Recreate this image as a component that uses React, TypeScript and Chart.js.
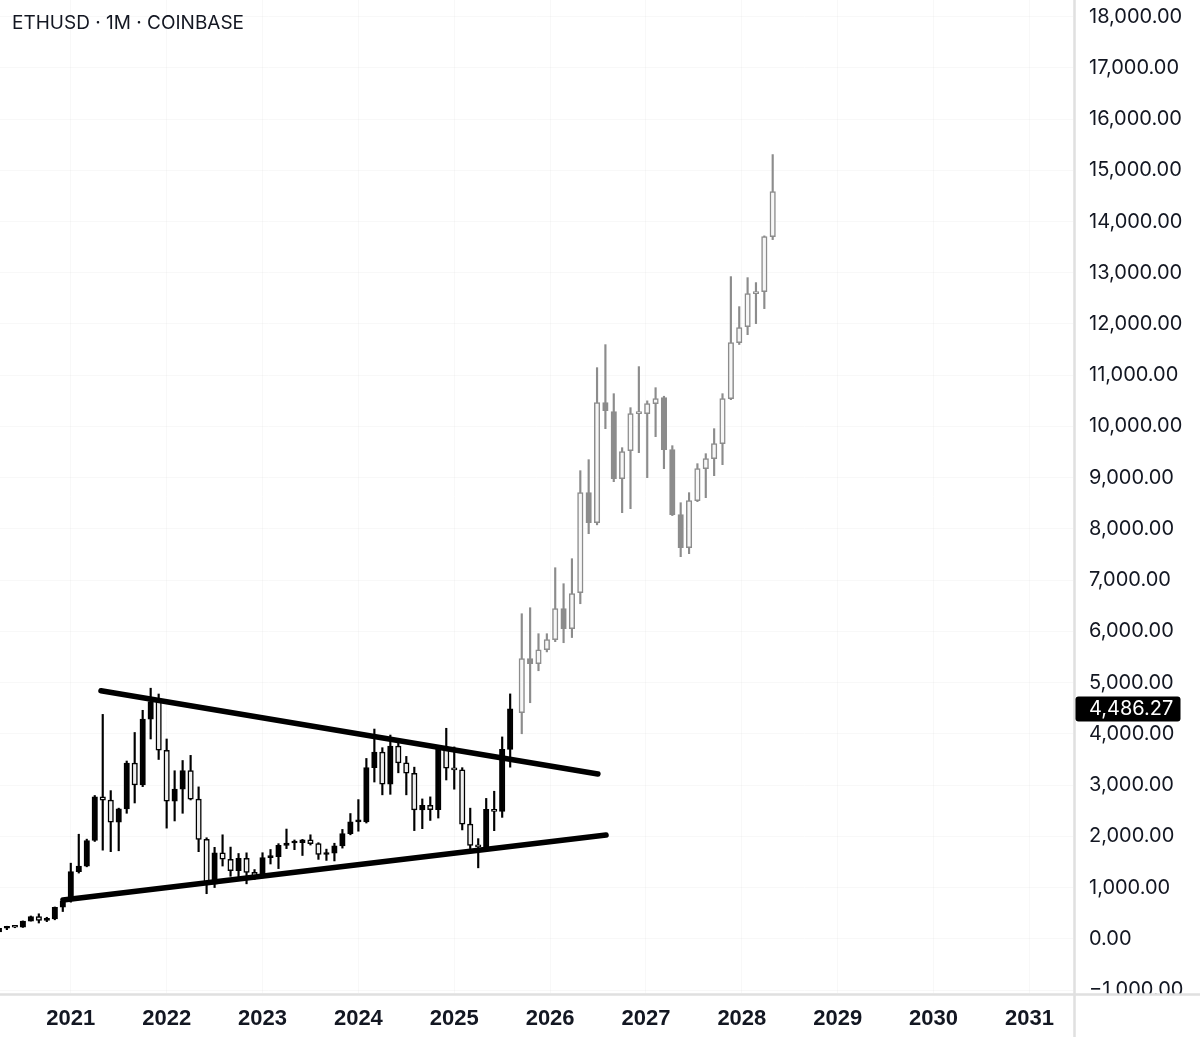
import { useEffect, useRef } from 'react';
import { Chart, registerables } from 'chart.js';

Chart.register(...registerables);

// ---- Axis labels ----
const YEAR_LABELS = ['2021', '2022', '2023', '2024', '2025', '2026', '2027', '2028', '2029', '2030', '2031'];
const MONTHS_PER_YEAR = 12;
const Y_TICK_STEP = 1000;
const X_MIN = -8.86; // months relative to Jan 2021
const X_MAX = 125.45;
const Y_MIN = -1058;
const Y_MAX = 18324;

// ---- Monthly ETHUSD candles, Apr 2020 .. Aug 2025 (month index, Jan 2021 = 0) ----
const HIST_START = -9;
const HIST_OPEN = [
  133, 206, 231, 226, 345, 434, 360, 386, 616,
  737, 1312, 1417, 1918, 2773, 2707, 2275, 2536, 3432, 3001, 4288, 4631,
  3680, 2688, 2920, 3282, 2727, 1942, 1067, 1678, 1553, 1328, 1572, 1295,
  1196, 1585, 1605, 1822, 1870, 1874, 1934, 1857, 1645, 1671, 1815, 2052,
  2282, 2283, 3340, 3645, 3016, 3763, 3433, 3232, 2514, 2603, 2518, 3706,
  3332, 3298, 2238, 1822, 1794, 2528, 2486, 3698,
];
const HIST_HIGH = [
  227, 245, 254, 349, 445, 488, 420, 621, 755,
  1476, 2041, 1945, 2797, 4380, 2892, 2550, 3470, 4027, 4460, 4891, 4778,
  3900, 3280, 3480, 3580, 2965, 1972, 1785, 2030, 1790, 1665, 1678, 1352,
  1680, 1743, 1857, 2142, 1929, 1940, 2030, 1875, 1750, 1865, 2135, 2445,
  2717, 3520, 4094, 3730, 3977, 3887, 3560, 3350, 2730, 2770, 3740, 4109,
  3745, 3340, 2550, 1955, 2740, 2880, 3940, 4780,
];
const HIST_LOW = [
  130, 178, 216, 222, 345, 308, 335, 371, 532,
  715, 1283, 1405, 1900, 1730, 1700, 1718, 2450, 2651, 2970, 3900, 3500,
  2160, 2300, 2450, 2710, 1700, 880, 1000, 1420, 1220, 1190, 1073, 1157,
  1190, 1460, 1370, 1760, 1740, 1626, 1830, 1550, 1530, 1520, 1770, 2030,
  2100, 2260, 3060, 2810, 2820, 3240, 2810, 2112, 2150, 2310, 2357, 3100,
  2920, 2125, 1760, 1385, 1750, 2110, 2370, 3350,
];
const HIST_CLOSE = [
  206, 231, 226, 345, 434, 360, 386, 616, 737,
  1312, 1417, 1918, 2773, 2707, 2275, 2536, 3432, 3001, 4288, 4631, 3680,
  2688, 2920, 3282, 2727, 1942, 1067, 1678, 1553, 1328, 1572, 1295, 1196,
  1585, 1605, 1822, 1870, 1874, 1934, 1857, 1645, 1671, 1815, 2052, 2282,
  2283, 3340, 3645, 3016, 3763, 3433, 3232, 2514, 2603, 2518, 3706, 3332,
  3298, 2238, 1822, 1794, 2528, 2486, 3698, 4486.27,
];

// ---- Projected path (bars pattern), spaced slightly wider than one month ----
const PROJ_START = 56.45;
const PROJ_STEP = 1.047;
const PROJ_OPEN = [
  4412, 5467, 5369, 5642, 5838, 6443, 6052, 6755, 8708, 8122, 10465, 10289, 8981, 9527, 10250, 10250,
  10445, 10562, 9547, 8278, 7634, 8551, 9176, 9371, 9664, 10543, 11636, 11949, 12593, 12632, 13706,
];
const PROJ_HIGH = [
  6345, 6462, 5955, 5955, 7243, 6931, 7419, 9137, 9352, 11148, 11597, 10640, 9586, 10367, 11168, 10500,
  10757, 10590, 9625, 8512, 8708, 9274, 9469, 9957, 10640, 12925, 12339, 12905, 12808, 13720, 15307,
];
const PROJ_LOW = [
  4002, 4608, 5232, 5600, 5800, 5779, 5880, 6540, 7907, 8080, 9957, 8922, 8317, 8395, 9489, 9000,
  9801, 9176, 8260, 7458, 7517, 8532, 8610, 9039, 9254, 10523, 11600, 11792, 12007, 12300, 13647,
];
const PROJ_CLOSE = [
  5467, 5369, 5642, 5838, 6443, 6052, 6736, 8708, 8122, 10465, 10309, 8981, 9508, 10250, 10270, 10445,
  10543, 9547, 8278, 7634, 8551, 9176, 9371, 9664, 10543, 11636, 11929, 12593, 12610, 13706, 14584,
];

// ---- Triangle trendlines (month index, price) ----
const UPPER_TREND = [
  { x: 3.78, y: 4843 },
  { x: 65.98, y: 3217 },
];
const LOWER_TREND = [
  { x: -0.98, y: 759 },
  { x: 67.0, y: 2026 },
];

const TITLE = 'ETHUSD · 1M · COINBASE';

// ---- Styles ----
const INK = '#000000';
const GHOST = '#8c8c8c';
const HOLLOW_INK = '#efefef';
const HOLLOW_GHOST = '#f7f7f7';
const TEXT = '#131722';
const AXIS_LINE = '#e0e0e0';
const GRID = 'rgba(0,0,0,0.028)';
const UI_FONT = 'Inter, "Liberation Sans", Arial, sans-serif';

type Candle = { x: number; o: number; h: number; l: number; c: number; proj: boolean };

const candles: Candle[] = [
  ...HIST_OPEN.map((o, i) => ({
    x: HIST_START + i,
    o,
    h: HIST_HIGH[i],
    l: HIST_LOW[i],
    c: HIST_CLOSE[i],
    proj: false,
  })),
  ...PROJ_OPEN.map((o, i) => ({
    x: PROJ_START + i * PROJ_STEP,
    o,
    h: PROJ_HIGH[i],
    l: PROJ_LOW[i],
    c: PROJ_CLOSE[i],
    proj: true,
  })),
];

const LAST_PRICE = HIST_CLOSE[HIST_CLOSE.length - 1];

const fmtPrice = (v: number) =>
  (v < 0 ? '\u2212' : '') +
  Math.abs(v).toLocaleString('en-US', { minimumFractionDigits: 2, maximumFractionDigits: 2 });

// Frame lines that run past the plot area, and the last-price tag on the price axis
const framePlugin = {
  id: 'frame',
  afterDraw(chart: any) {
    const { ctx, chartArea, width, height } = chart;
    const yScale = chart.scales.y;
    ctx.save();
    // hide the part of the lowest price label that falls under the time axis
    ctx.fillStyle = '#ffffff';
    ctx.fillRect(chartArea.right + 2, chartArea.bottom + 1, width - chartArea.right, height - chartArea.bottom);
    ctx.strokeStyle = AXIS_LINE;
    ctx.lineWidth = 2.5;
    ctx.beginPath();
    ctx.moveTo(0, chartArea.bottom + 1.5);
    ctx.lineTo(width, chartArea.bottom + 1.5);
    ctx.moveTo(chartArea.right + 1.5, 0);
    ctx.lineTo(chartArea.right + 1.5, height);
    ctx.stroke();

    // last price tag
    const py = yScale.getPixelForValue(LAST_PRICE);
    const bx = chartArea.right + 2.5;
    const bw = 105;
    const bh = 25;
    ctx.fillStyle = '#000000';
    ctx.beginPath();
    (ctx as any).roundRect(bx, py - bh / 2, bw, bh, 3);
    ctx.fill();
    ctx.fillStyle = '#ffffff';
    ctx.font = `20px ${UI_FONT}`;
    ctx.textAlign = 'left';
    ctx.textBaseline = 'middle';
    ctx.fillText(fmtPrice(LAST_PRICE), chartArea.right + 16, py + 0.5);
    ctx.restore();
  },
};

export default function App() {
  const canvasRef = useRef<HTMLCanvasElement | null>(null);

  useEffect(() => {
    const canvas = canvasRef.current;
    if (!canvas) return;

    const chart = new Chart(canvas, {
      type: 'bar',
      data: {
        datasets: [
          {
            type: 'line',
            label: 'Upper trendline',
            data: UPPER_TREND,
            borderColor: INK,
            borderWidth: 5.5,
            borderCapStyle: 'round',
            pointRadius: 0,
            order: 0,
          } as any,
          {
            type: 'line',
            label: 'Lower trendline',
            data: LOWER_TREND,
            borderColor: INK,
            borderWidth: 5.5,
            borderCapStyle: 'round',
            pointRadius: 0,
            order: 0,
          } as any,
          {
            type: 'bar',
            label: 'Body',
            data: candles.map((c) => ({ x: c.x, y: [c.o, c.c] })),
            backgroundColor: candles.map((c) =>
              c.proj ? (c.c >= c.o ? HOLLOW_GHOST : GHOST) : c.c >= c.o ? INK : HOLLOW_INK
            ),
            borderColor: candles.map((c) => (c.proj ? GHOST : INK)),
            borderWidth: 1.5,
            borderSkipped: false,
            barThickness: 5.5,
            minBarLength: 2,
            grouped: false,
            order: 1,
          } as any,
          {
            type: 'bar',
            label: 'Wick',
            data: candles.map((c) => ({ x: c.x, y: [c.l, c.h] })),
            backgroundColor: candles.map((c) => (c.proj ? GHOST : INK)),
            borderWidth: 0,
            barThickness: 1.5,
            grouped: false,
            order: 2,
          } as any,
        ],
      },
      options: {
        animation: false,
        responsive: true,
        maintainAspectRatio: false,
        layout: { padding: 0 },
        plugins: {
          legend: { display: false },
          tooltip: { enabled: false },
          title: { display: false },
        },
        scales: {
          x: {
            type: 'linear',
            min: X_MIN,
            max: X_MAX,
            offset: false,
            grid: { color: GRID, drawTicks: false, lineWidth: 1, offset: false },
            border: { display: false },
            ticks: {
              padding: 13,
              autoSkip: false,
              maxRotation: 0,
              color: TEXT,
              font: { family: '"Liberation Sans", Arial, sans-serif', size: 22, weight: 'bold' },
              callback: (_v: any, i: number) => YEAR_LABELS[i],
            },
            afterBuildTicks: (scale: any) => {
              scale.ticks = YEAR_LABELS.map((_, i) => ({ value: i * MONTHS_PER_YEAR }));
            },
            afterFit: (scale: any) => {
              scale.height = 44;
              scale.paddingLeft = 0;
              scale.paddingRight = 0;
            },
          },
          y: {
            type: 'linear',
            position: 'right',
            min: Y_MIN,
            max: Y_MAX,
            grid: { color: GRID, drawTicks: false, lineWidth: 1 },
            border: { display: false },
            ticks: {
              padding: 16,
              color: TEXT,
              font: { family: UI_FONT, size: 20 },
              callback: (v: any) => fmtPrice(Number(v)),
            },
            afterBuildTicks: (scale: any) => {
              const ticks = [];
              for (let v = Math.ceil(Y_MIN / Y_TICK_STEP) * Y_TICK_STEP; v <= Y_MAX; v += Y_TICK_STEP) {
                ticks.push({ value: v });
              }
              scale.ticks = ticks;
            },
            afterFit: (scale: any) => {
              scale.width = 127;
              scale.paddingTop = 0;
              scale.paddingBottom = 0;
            },
          },
        },
      } as any,
      plugins: [framePlugin],
    });

    return () => chart.destroy();
  }, []);

  return (
    <div style={{ position: 'fixed', left: 0, top: 0, width: 1200, height: 1037, background: '#ffffff' }}>
      <canvas ref={canvasRef} />
      <div
        style={{
          position: 'absolute',
          left: 12,
          top: 13,
          fontFamily: UI_FONT,
          fontSize: 19,
          lineHeight: '20px',
          color: TEXT,
          whiteSpace: 'nowrap',
        }}
      >
        {TITLE}
      </div>
    </div>
  );
}
